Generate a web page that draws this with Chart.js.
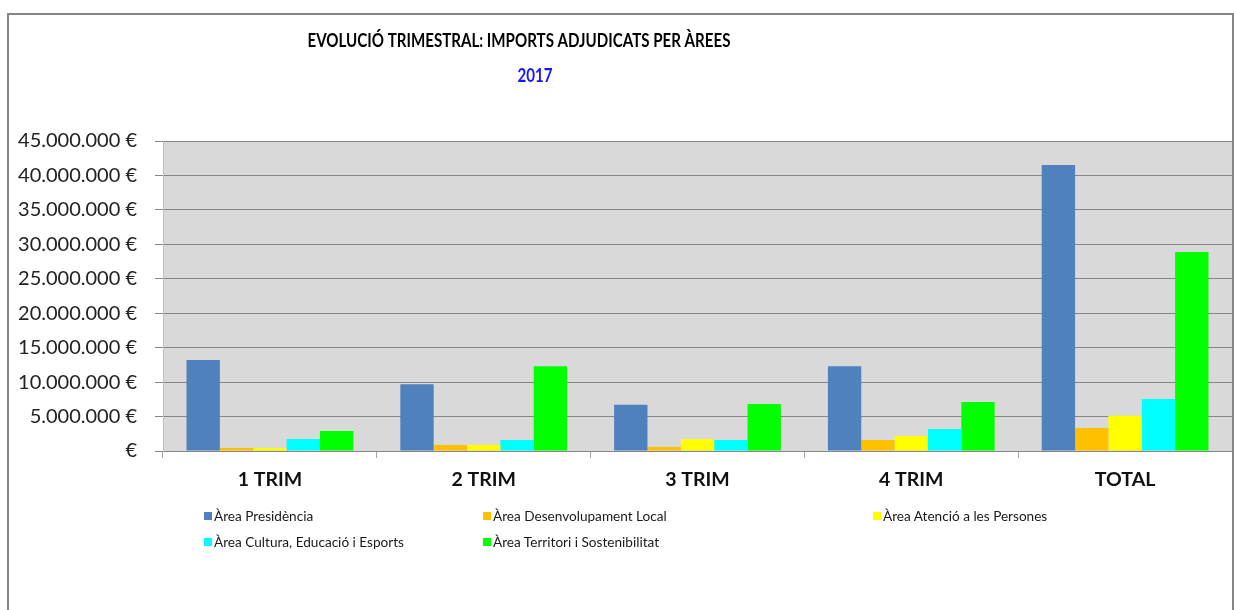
<!DOCTYPE html>
<html>
<head>
<meta charset="utf-8">
<script src="https://cdn.jsdelivr.net/npm/chart.js@4.4.1/dist/chart.umd.min.js"></script>
<style>
  html, body { margin: 0; padding: 0; background: #fff; overflow: hidden; }
  #wrap { position: relative; width: 1234px; height: 610px; }
  #c { position: absolute; left: 0; top: 0; }
  #frame { position: absolute; left: 7px; top: 13px; width: 1223px; height: 700px;
           border: 2px solid #868686; pointer-events: none; }
  #legend { position: absolute; left: 204px; top: 503px; display: grid;
            grid-template-columns: 279px 390px auto; grid-auto-rows: 26px;
            font-family: Lato, "Open Sans", sans-serif; font-size: 13.6px; color: #1a1a1a; }
  .item { display: flex; align-items: center; white-space: nowrap; }
  .sw { width: 8px; height: 8px; margin-right: 2px; display: inline-block; }
</style>
</head>
<body>
<div id="wrap">
  <canvas id="c" width="1234" height="610"></canvas>
  <div id="legend"></div>
  <div id="frame"></div>
</div>
<script>
const titleLine1 = 'EVOLUCIÓ TRIMESTRAL: IMPORTS ADJUDICATS PER ÀREES';
const titleLine2 = '2017';
const categories = ['1 TRIM', '2 TRIM', '3 TRIM', '4 TRIM', 'TOTAL'];
const seriesNames = [
  'Àrea Presidència',
  'Àrea Desenvolupament Local',
  'Àrea Atenció a les Persones',
  'Àrea Cultura, Educació i Esports',
  'Àrea Territori i Sostenibilitat'
];
const presidencia   = [13200000, 9700000, 6700000, 12300000, 41500000];
const desenvolupament = [450000, 870000, 580000, 1600000, 3330000];
const atencio       = [450000, 870000, 1700000, 2180000, 5130000];
const cultura       = [1740000, 1600000, 1600000, 3180000, 7550000];
const territori     = [2900000, 12300000, 6820000, 7100000, 28900000];
const seriesColors = ['#4f81bd', '#ffc000', '#ffff00', '#00ffff', '#00ff00'];
const yMin = 0, yMax = 45000000, yStep = 5000000;

const seriesValues = [presidencia, desenvolupament, atencio, cultura, territori];

function fmtEuro(v) {
  if (v === 0) return '€';
  return String(Math.round(v)).replace(/\B(?=(\d{3})+(?!\d))/g, '.') + ' €';
}

const bgPlugin = {
  id: 'bg',
  beforeDraw(chart) {
    const a = chart.chartArea, ctx = chart.ctx;
    ctx.save();
    ctx.fillStyle = '#d9d9d9';
    ctx.fillRect(a.left, a.top, a.right - a.left, a.bottom - a.top);
    ctx.restore();
  }
};
const titlePlugin = {
  id: 'titles',
  afterDraw(chart) {
    const ctx = chart.ctx;
    ctx.save();
    ctx.textAlign = 'center';
    ctx.textBaseline = 'middle';
    ctx.font = 'bold 19px Lato, "Open Sans", sans-serif';
    const sx = 0.795;
    ctx.scale(sx, 1);
    ctx.fillStyle = '#000';
    ctx.fillText(titleLine1, 519 / sx, 41);
    ctx.fillStyle = '#1515ff';
    ctx.fillText(titleLine2, 535 / sx, 76);
    ctx.restore();
  }
};

const chart = new Chart(document.getElementById('c'), {
  type: 'bar',
  data: {
    labels: categories,
    datasets: seriesNames.map((n, i) => ({
      label: n,
      data: seriesValues[i],
      backgroundColor: seriesColors[i],
      borderWidth: 0,
      categoryPercentage: 0.78,
      barPercentage: 1.0
    }))
  },
  options: {
    responsive: false,
    animation: false,
    layout: { padding: { top: 141, right: 2, left: 0, bottom: 0 } },
    plugins: { legend: { display: false }, title: { display: false }, tooltip: { enabled: false } },
    scales: {
      x: {
        offset: true,
        grid: { offset: true, drawOnChartArea: false, drawTicks: true, tickLength: 7, color: '#a6a6a6' },
        border: { color: '#868686', width: 1 },
        ticks: { color: '#111', padding: 10, font: { family: 'Lato, "Open Sans", sans-serif', size: 19.5, weight: 'bold' } },
        afterFit(s) { s.height = 159; }
      },
      y: {
        min: yMin, max: yMax,
        grid: { color: '#868686', tickLength: 8, drawTicks: true },
        border: { color: '#c0c0c0', width: 1 },
        ticks: { stepSize: yStep, color: '#222', padding: 18, callback: v => fmtEuro(v),
                 font: { family: 'Lato, "Open Sans", sans-serif', size: 20 } },
        afterFit(s) { s.width = 163; }
      }
    }
  },
  plugins: [bgPlugin, titlePlugin]
});

const leg = document.getElementById('legend');
chart.data.datasets.forEach(ds => {
  const it = document.createElement('div');
  it.className = 'item';
  const sw = document.createElement('span');
  sw.className = 'sw';
  sw.style.background = ds.backgroundColor;
  const tx = document.createElement('span');
  tx.textContent = ds.label;
  it.appendChild(sw); it.appendChild(tx);
  leg.appendChild(it);
});
</script>
</body>
</html>
